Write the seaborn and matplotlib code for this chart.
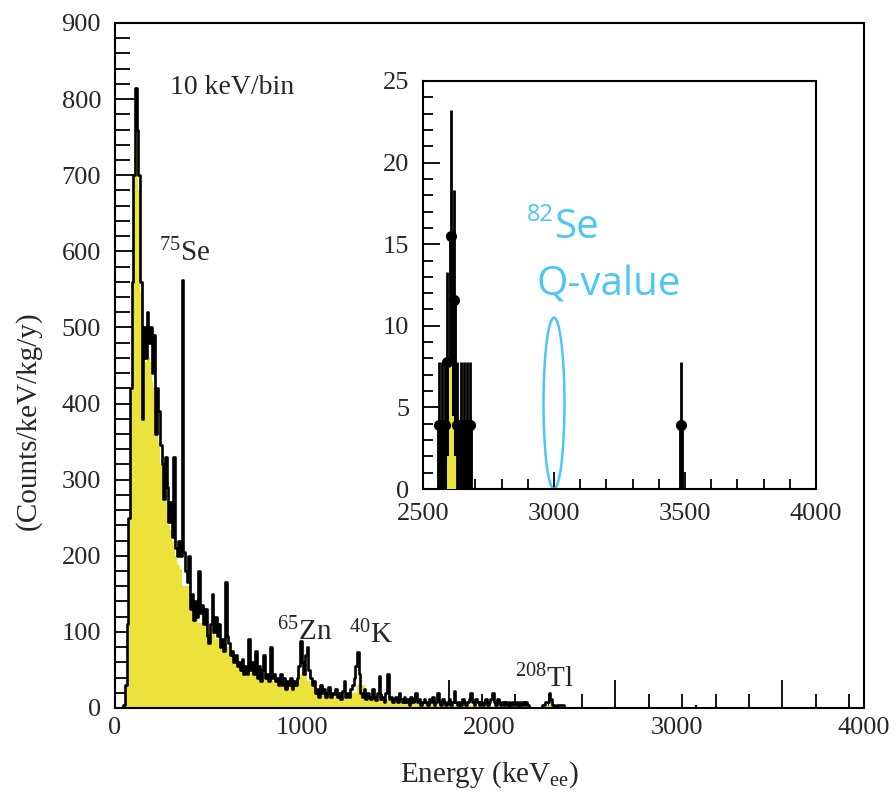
import numpy as np
import pandas as pd
import matplotlib
matplotlib.use("Agg")
import matplotlib.pyplot as plt
import seaborn as sns
from matplotlib.patches import Ellipse
from matplotlib.ticker import MultipleLocator

# measured spectrum, 10 keV bins from 0 to 2700 keV (counts/keV/kg/y)
data_rate = [
    0, 0, 0, 0, 0, 4, 30, 110, 250, 420,
    560, 700, 815, 760, 700, 560, 380, 500, 460, 520,
    480, 500, 440, 490, 360, 420, 390, 345, 320, 275,
    330, 290, 245, 270, 225, 330, 210, 200, 220, 200,
    562, 205, 180, 165, 200, 130, 150, 115, 140, 120,
    180, 125, 135, 110, 130, 95, 85, 110, 150, 100,
    120, 95, 110, 80, 90, 75, 165, 95, 85, 70,
    75, 60, 70, 55, 60, 50, 65, 45, 55, 45,
    90, 50, 60, 45, 75, 40, 55, 35, 50, 70,
    40, 45, 35, 80, 40, 45, 35, 40, 30, 45,
    30, 40, 25, 35, 30, 40, 25, 35, 30, 40,
    55, 88, 60, 45, 70, 80, 50, 40, 30, 35,
    20, 25, 15, 30, 20, 25, 15, 20, 28, 15,
    20, 18, 25, 15, 20, 12, 22, 35, 15, 20,
    15, 25, 30, 40, 55, 74, 45, 20, 15, 25,
    12, 20, 15, 12, 25, 15, 10, 20, 42, 12,
    15, 8, 20, 44, 12, 15, 8, 12, 15, 8,
    20, 12, 8, 15, 8, 12, 4, 15, 8, 12,
    20, 8, 12, 4, 8, 12, 8, 4, 12, 8,
    15, 4, 8, 20, 8, 4, 12, 8, 4, 8,
    12, 4, 8, 22, 8, 4, 8, 4, 12, 8,
    4, 8, 12, 20, 8, 4, 12, 8, 4, 8,
    4, 8, 12, 4, 8, 12, 20, 8, 4, 12,
    8, 4, 8, 4, 8, 4, 8, 4, 8, 4,
    8, 4, 8, 4, 8, 4, 8, 4, 0, 0,
    0, 0, 0, 0, 0, 0, 4, 4, 8, 8,
    19.4, 11.6, 4, 4, 0, 4, 4, 4, 4, 0,
]

# simulation (yellow): 10 keV bins to 400, 50 keV bins to 2550, 10 keV bins to 2700
mc_low = [
    0, 0, 0, 0, 0, 3, 25, 100, 240, 400,
    545, 680, 790, 740, 680, 545, 440, 470, 455, 470,
    460, 455, 430, 420, 380, 375, 350, 320, 295, 275,
    275, 260, 240, 235, 218, 220, 200, 192, 188, 182,
]
mc_mid = [
    160, 128, 112, 98, 90, 80, 62, 53, 50, 45,
    40, 36, 31, 29, 45, 36, 21, 19, 17, 15,
    20, 30, 13, 11, 10, 9, 8, 7, 6, 5,
    5, 4, 4, 4, 4, 3, 3, 3, 2, 2,
    2, 1, 0,
]
mc_tl = [0, 0, 0, 0, 2, 8, 4.5, 2, 0, 0, 0, 0, 0, 0, 0]

# events above the main spectrum
high_energy = [3485]
high_rate = [3.9]

# inset: zoom on the 82Se Q-value region
inset_energy = [2561, 2572, 2584, 2593, 2606, 2620, 2631, 2644, 2656, 2667, 2679, 3485]
inset_rate = [3.9, 3.9, 3.9, 7.8, 15.5, 11.6, 3.9, 3.9, 3.9, 3.9, 3.9, 3.9]
inset_err = [3.9, 3.9, 3.9, 5.5, 7.7, 6.7, 3.9, 3.9, 3.9, 3.9, 3.9, 3.9]

main_xticklabels = ["0", "1000", "2000", "3000", "4000"]
isotopes = [("$^{75}$Se", 262, 598), ("$^{65}$Zn", 970, 100), ("$^{40}$K", 1405, 96), ("$^{208}$Tl", 2400, 38)]

yellow = "#ECE23C"
blue = "#4CC6F4"

sns.set_theme(style="ticks")
plt.rcParams["font.family"] = ["Liberation Serif", "DejaVu Serif"]
plt.rcParams["mathtext.fontset"] = "custom"
plt.rcParams["mathtext.rm"] = "Liberation Serif"
plt.rcParams["mathtext.it"] = "Liberation Serif:italic"

edges = np.arange(0, 10 * len(data_rate) + 1, 10)
df = pd.DataFrame({"energy": edges[:-1] + 5.0, "rate": data_rate})
mc_edges = np.concatenate([np.arange(0, 400, 10), np.arange(400, 2550, 50), np.arange(2550, 2701, 10)])
df_mc = pd.DataFrame({"energy": (mc_edges[:-1] + mc_edges[1:]) / 2, "rate": mc_low + mc_mid + mc_tl})
edges = [float(e) for e in edges]
mc_edges = [float(e) for e in mc_edges]

fig = plt.figure(figsize=(8.96, 7.98), dpi=100)
ax = fig.add_axes([0.1283, 0.1128, 0.836, 0.8584])

# Main spectrum
sns.histplot(data=df_mc, x="energy", weights="rate", bins=mc_edges, element="step", fill=True,
             color=yellow, alpha=1, linewidth=0, ax=ax)
sns.histplot(data=df, x="energy", weights="rate", bins=edges, element="step", fill=False,
             color="black", linewidth=1.9, ax=ax)
ax.vlines(high_energy, 0, high_rate, color="black", lw=1.5)

ax.set_xlim(0, 4490)
ax.set_ylim(0, 900)
ax.xaxis.set_major_locator(MultipleLocator(1000))
ax.xaxis.set_minor_locator(MultipleLocator(200))
ax.yaxis.set_major_locator(MultipleLocator(100))
ax.yaxis.set_minor_locator(MultipleLocator(20))
ax.tick_params(which="both", direction="in", labelsize=19, width=1.3, color="black")
ax.tick_params(axis="x", which="major", length=20, labelbottom=False)
ax.tick_params(axis="x", which="minor", length=10)
ax.tick_params(axis="y", which="major", length=16, pad=10)
ax.tick_params(axis="y", which="minor", length=11)
for s in ax.spines.values():
    s.set_linewidth(1.5)
    s.set_color("black")

for i, lab in enumerate(main_xticklabels):
    ax.text(i / 4, -0.013, lab, transform=ax.transAxes, ha="center", va="top", fontsize=19)

ax.set_xlabel("Energy (keV$_{\\rm ee}$)", fontsize=21)
ax.xaxis.set_label_coords(0.5, -0.075)
ax.set_ylabel("(Counts/keV/kg/y)", fontsize=21)
ax.yaxis.set_label_coords(-0.098, 0.42)

ax.text(330, 815, "10 keV/bin", fontsize=20, va="center")
for lab, x, y in isotopes:
    ax.text(x, y, lab, fontsize=21, va="center")

# Inset
axin = fig.add_axes([0.4721, 0.3872, 0.4386, 0.5113])
sns.histplot(data=df_mc, x="energy", weights="rate", bins=mc_edges, element="step", fill=True,
             color=yellow, alpha=1, linewidth=0, ax=axin, zorder=3)
axin.vlines(inset_energy, 0, inset_rate, color="black", lw=3.5, zorder=2)
axin.errorbar(inset_energy, inset_rate, yerr=inset_err, fmt="o", color="black",
              ms=7, elinewidth=2, capsize=0, zorder=4)
axin.set_xlim(2500, 4000)
axin.set_ylim(0, 25)
axin.set_xlabel("")
axin.set_ylabel("")
axin.xaxis.set_major_locator(MultipleLocator(500))
axin.xaxis.set_minor_locator(MultipleLocator(100))
axin.yaxis.set_major_locator(MultipleLocator(5))
axin.yaxis.set_minor_locator(MultipleLocator(1))
axin.tick_params(which="both", direction="in", labelsize=19, width=1.3, color="black")
axin.tick_params(which="major", length=12, pad=10)
axin.tick_params(which="minor", length=7)
for s in axin.spines.values():
    s.set_linewidth(1.5)
    s.set_color("black")

axin.add_patch(Ellipse((3000, 5.25), width=80, height=10.5, fill=False, edgecolor=blue, lw=1.8))
axin.text(0.265, 0.672, "82", transform=axin.transAxes, color=blue, fontsize=17,
          family=["Open Sans", "DejaVu Sans"], va="center")
axin.text(0.336, 0.64, "Se", transform=axin.transAxes, color=blue, fontsize=29,
          family=["Open Sans", "DejaVu Sans"], va="center")
axin.text(0.29, 0.5, "Q-value", transform=axin.transAxes, color=blue, fontsize=29,
          family=["Open Sans", "DejaVu Sans"], va="center")

fig.savefig("out.png", dpi=100)
